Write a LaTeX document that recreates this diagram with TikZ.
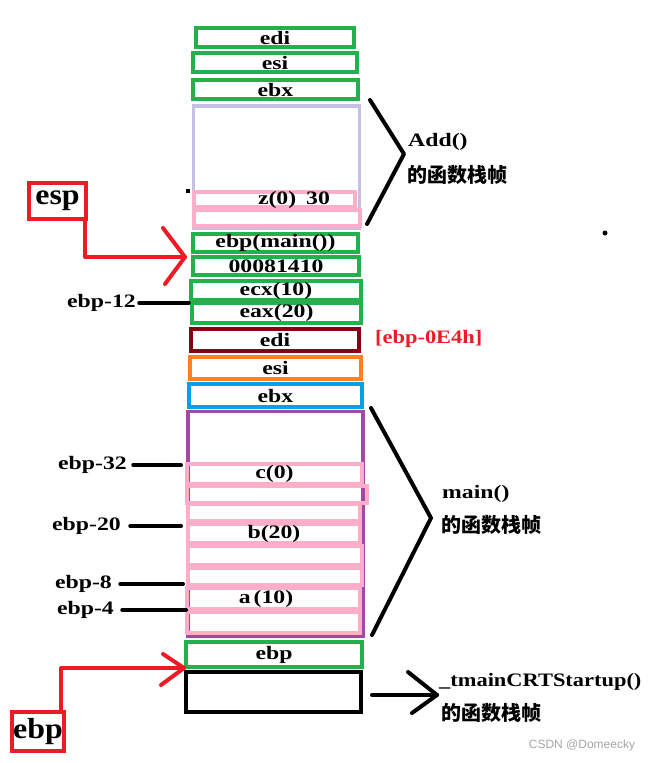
\documentclass[tikz,border=0pt]{standalone}
\usepackage{fontspec}
\setmainfont{Liberation Serif}[FakeStretch=1.25]
\newfontfamily\midfont{Liberation Serif}[FakeStretch=1.18]
\newfontfamily\bigfont{Liberation Serif}[FakeStretch=1.1]
\newfontfamily\cjk{Noto Sans CJK SC}
\newfontfamily\wmfont{Liberation Sans}
\definecolor{pgreen}{HTML}{22B14C}
\definecolor{ppink}{HTML}{FFAEC9}
\definecolor{plav}{HTML}{C8BFE7}
\definecolor{pdred}{HTML}{880015}
\definecolor{porange}{HTML}{FF7F27}
\definecolor{pblue}{HTML}{00A2E8}
\definecolor{ppurple}{HTML}{A349A4}
\definecolor{pred}{HTML}{ED1C24}
\tikzset{
  cell/.style={draw=pgreen, line width=4pt, rectangle, inner sep=0pt, fill=white,
    font=\fontsize{19}{22}\selectfont\bfseries},
  lbl/.style={inner sep=0pt, font=\fontsize{19}{22}\selectfont\bfseries},
  cjklbl/.style={inner sep=0pt, anchor=west, font=\cjk\fontsize{20}{23}\selectfont\bfseries},
  tick/.style={line width=3.5pt, line cap=round},
  brace/.style={line width=4pt, line cap=round, line join=round},
  redline/.style={draw=pred, line width=4pt, line cap=round, line join=round},
  redbox/.style={draw=pred, line width=4pt, rectangle, inner sep=0pt,
    font=\bigfont\fontsize{29}{32}\selectfont\bfseries}
}
\begin{document}
\begin{tikzpicture}[x=1pt, y=-1pt]
\fill[white] (0,0) rectangle (652,763);
\useasboundingbox (0,0) rectangle (652,763);

% ---------- Add() frame ----------
\node[cell, minimum width=158, minimum height=19] (edi1) at (275,37.5) {edi};
\node[cell, minimum width=164, minimum height=19] (esi1) at (275,62.5) {esi};
\node[cell, minimum width=165, minimum height=19] (ebx1) at (275.5,89.5) {ebx};
\node[cell, draw=plav, line width=3.5pt, fill=none, minimum width=166, minimum height=122] (lav) at (276.5,167) {};
\node[cell, draw=ppink, fill=none, minimum width=161, minimum height=15] (zbox) at (274.5,199.5) {};
\node[cell, draw=ppink, fill=none, minimum width=166, minimum height=16] (zbox2) at (277,218) {};
\node[lbl] (ztxt) at (294,200) {z(0)\hspace{10pt}30};
\fill (186,189) rectangle (190,193);

% Add bracket
\coordinate (ab1) at (370,100);
\coordinate (ab2) at (404,154);
\coordinate (ab3) at (367,224);
\draw[brace] (ab1) -- (ab2) -- (ab3);
\node[lbl, anchor=west] (addt) at (408,142) {Add()};
\node[cjklbl] (addc) at (407,175) {的函数栈帧};

\fill (605,233) circle (2.5);

% ---------- main() frame ----------
\node[cell, minimum width=165, minimum height=18] (ebpmain) at (275.5,243) {ebp(main())};
\node[cell, minimum width=166, minimum height=18] (ret) at (276,266) {00081410};
\node[cell, minimum width=170, minimum height=19] (ecx) at (276,290.5) {ecx(10)};
\node[cell, minimum width=169, minimum height=20] (eax) at (276.5,312.5) {eax(20)};
\node[cell, draw=pdred, minimum width=168, minimum height=22] (edi2) at (275,340) {edi};
\node[cell, draw=porange, minimum width=171, minimum height=22] (esi2) at (275.5,368) {esi};
\node[cell, draw=pblue, minimum width=173, minimum height=23] (ebx2) at (275.5,395.5) {ebx};
\node[lbl, text=pred, anchor=west, font=\midfont\fontsize{19}{22}\selectfont\bfseries] (off) at (375,339) {[ebp-0E4h]};

\node[cell, draw=ppurple, fill=none, line width=3.5pt, minimum width=175, minimum height=225] (purple) at (275.5,524) {};
\node[cell, draw=ppink, fill=none, minimum width=175, minimum height=20] (p1) at (274.5,474) {c(0)};
\node[cell, draw=ppink, fill=none, minimum width=180, minimum height=17] (p2) at (277,494.5) {};
\node[cell, draw=ppink, fill=none, minimum width=172, minimum height=17] (p3) at (274,512.5) {};
\node[cell, draw=ppink, fill=none, minimum width=172, minimum height=19] (p4) at (274,533.5) {b(20)};
\node[cell, draw=ppink, fill=none, minimum width=174, minimum height=19] (p5) at (275,555.5) {};
\node[cell, draw=ppink, fill=none, minimum width=174, minimum height=17] (p6) at (275,576.5) {};
\node[cell, draw=ppink, fill=none, minimum width=173, minimum height=21] (p7) at (273.5,598.5) {};
\node[cell, draw=ppink, fill=none, minimum width=173, minimum height=21] (p8) at (273.5,622.5) {};
\node[lbl] (atxt) at (266,599) {a\hspace{3pt}(10)};

\node[cell, minimum width=176, minimum height=25] (ebp3) at (274,654.5) {ebp};
\node[cell, draw=black, fill=none, minimum width=175, minimum height=40] (blk) at (273.5,692) {};

% main bracket
\coordinate (mb1) at (371,408);
\coordinate (mb2) at (431,518);
\coordinate (mb3) at (372,635);
\draw[brace] (mb1) -- (mb2) -- (mb3);
\node[lbl, anchor=west] (maint) at (442,494) {main()};
\node[cjklbl] (mainc) at (441,525) {的函数栈帧};

% startup arrow
\coordinate (sa1) at (372,695);
\coordinate (sa2) at (437,695);
\draw[brace] (sa1) -- (sa2);
\draw[brace] (408,672) -- (sa2) -- (412,713);
\node[lbl, anchor=west, font=\midfont\fontsize{19}{22}\selectfont\bfseries] (startt) at (439,682) {\_tmainCRTStartup()};
\node[cjklbl] (startc) at (441,713) {的函数栈帧};

% ---------- left offset labels ----------
\node[lbl, anchor=east] (l12) at (136,303) {ebp-12};
\draw[tick] ([xshift=3]l12.east) -- (ecx.west |- l12.east);
\node[lbl, anchor=east] (l32) at (127,465) {ebp-32};
\draw[tick] ([xshift=6]l32.east) -- ([xshift=-5]purple.west |- l32.east);
\node[lbl, anchor=east] (l20) at (121,526) {ebp-20};
\draw[tick] ([xshift=9]l20.east) -- ([xshift=-5]purple.west |- l20.east);
\node[lbl, anchor=east] (l8) at (112,584) {ebp-8};
\draw[tick] ([xshift=8]l8.east) -- ([xshift=-3]purple.west |- l8.east);
\node[lbl, anchor=east] (l4) at (114,610) {ebp-4};
\draw[tick] ([xshift=8]l4.east) -- (purple.west |- l4.east);

% ---------- esp pointer ----------
\node[redbox, minimum width=57, minimum height=36] (esp) at (57.5,201) {esp};
\coordinate (esptip) at (185,257);
\draw[redline] ([xshift=-3]esp.south east) |- (esptip);
\draw[redline] ([shift={(-22,-29)}]esptip) -- (esptip) -- ++(-20,27);

% ---------- ebp pointer ----------
\node[redbox, minimum width=52, minimum height=39] (ebpr) at (38,731.5) {ebp};
\coordinate (ebptip) at (184,668);
\draw[redline] ([xshift=-5]ebpr.north east) |- (ebptip);
\draw[redline] ([shift={(-21,-14)}]ebptip) -- (ebptip) -- ++(-23,17);

% watermark
\node[inner sep=0pt, text=black!35, font=\wmfont\fontsize{12}{14}\selectfont] (wm) at (582,745) {CSDN @Domeecky};
\end{tikzpicture}
\end{document}
